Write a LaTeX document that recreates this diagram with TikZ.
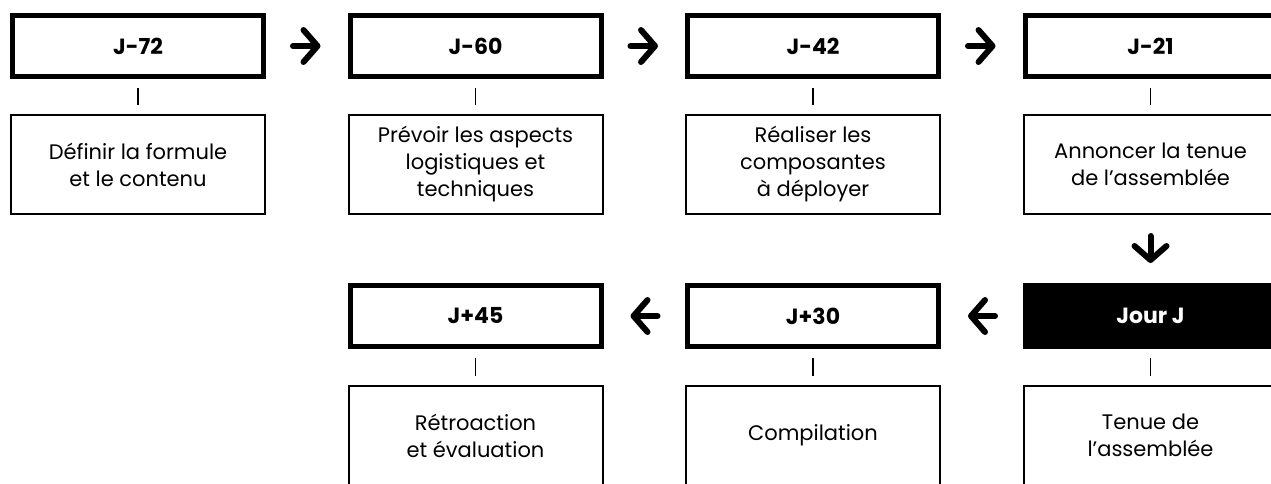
\documentclass[tikz,border=0pt]{standalone}
\usepackage{fontspec}
\setmainfont{Poppins}
\usetikzlibrary{arrows.meta}
\begin{document}
\begin{tikzpicture}[x=1pt,y=-1pt,
  datebox/.style={draw=black, line width=5pt, minimum width=251pt, minimum height=61pt,
    inner sep=0pt, font=\fontsize{22}{26}\selectfont\bfseries},
  todaybox/.style={datebox, fill=black, text=white},
  taskbox/.style={draw=black, line width=2pt, minimum width=254pt, minimum height=99pt,
    inner sep=0pt, align=center, font=\fontsize{21}{27}\selectfont},
  stem/.style={line width=1.2pt, shorten <=9pt, shorten >=9pt},
  flow/.style={line width=6pt, line cap=round,
    -{Straight Barb[length=14pt, width=32pt, round, line join=round]}},
]
\useasboundingbox (0,0) rectangle (1271,483);
\clip (0,0) rectangle (1271,483);

% upper row: dates before the meeting
\node[datebox] (d1) at (138,46) {J-72};
\node[datebox] (d2) at (475.5,46) {J-60};
\node[datebox] (d3) at (813,46) {J-42};
\node[datebox] (d4) at (1150.5,46) {J-21};

\node[taskbox] (t1) at (138,164.5) {Définir la formule\\et le contenu};
\node[taskbox] (t2) at (475.5,164.5) {Prévoir les aspects\\logistiques et\\techniques};
\node[taskbox] (t3) at (813,164.5) {Réaliser les\\composantes\\à déployer};
\node[taskbox] (t4) at (1150.5,164.5) {Annoncer la tenue\\de l’assemblée};

% lower row: the meeting day and after
\node[todaybox] (d5) at (1150.5,316) {Jour J};
\node[datebox] (d6) at (813,316) {J+30};
\node[datebox] (d7) at (475.5,316) {J+45};

\node[taskbox] (t5) at (1150.5,435.5) {Tenue de\\l’assemblée};
\node[taskbox] (t6) at (813,435.5) {Compilation};
\node[taskbox] (t7) at (475.5,435.5) {Rétroaction\\et évaluation};

% stems from each date to its task
\foreach \i in {1,...,7} \draw[stem] (d\i) -- (t\i);

% sequence arrows
\draw[flow, shorten <=27pt, shorten >=27pt] (d1.east) -- (d2.west);
\draw[flow, shorten <=27pt, shorten >=27pt] (d2.east) -- (d3.west);
\draw[flow, shorten <=27pt, shorten >=27pt] (d3.east) -- (d4.west);
\draw[flow, shorten <=21pt, shorten >=20pt] (t4.south) -- (d5.north);
\draw[flow, shorten <=27.5pt, shorten >=27pt] (d5.west) -- (d6.east);
\draw[flow, shorten <=27.5pt, shorten >=27pt] (d6.west) -- (d7.east);
\end{tikzpicture}
\end{document}
